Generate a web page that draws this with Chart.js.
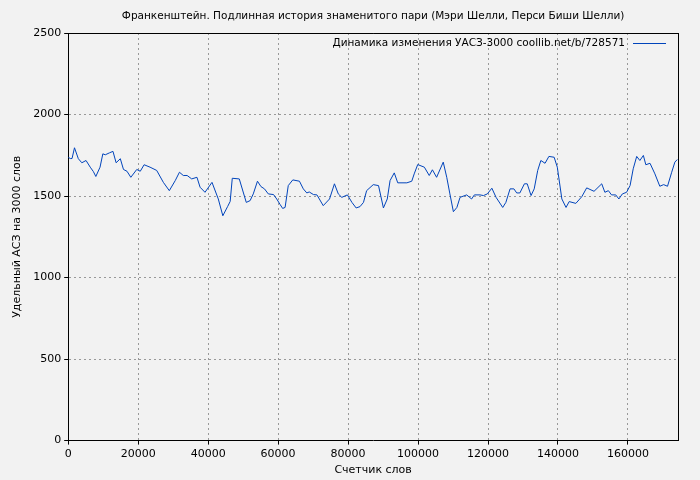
<!DOCTYPE html>
<html><head><meta charset="utf-8">
<script src="https://cdn.jsdelivr.net/npm/chart.js@4"></script>
<style>html,body{margin:0;background:#f2f2f2}#w{width:700px;height:480px}</style>
</head><body><div id="w"><canvas id="c"></canvas></div>
<script>
const words = [0,0.6,1.1,1.8,2.9,3.9,5.1,6.3,7.2,7.9,9.1,9.9,10.6,11.8,12.8,13.7,14.9,15.8,16.8,17.9,19.6,20.6,21.7,23.4,25.3,27.2,28.9,30.6,31.8,32.9,34.0,35.3,36.8,37.7,39.1,41.1,42.9,44.2,45.6,46.3,46.9,48.9,50.9,52.0,52.9,54.1,55.1,56.1,57.2,58.7,59.6,60.6,61.3,62.0,62.9,64.2,66.1,67.2,68.2,68.9,70.1,71.1,72.9,74.7,76.1,77.2,78.2,79.8,81.1,82.3,83.4,84.4,85.3,87.2,88.7,90.1,91.2,92.0,93.2,94.2,96.8,98.2,98.9,99.9,101.8,103.2,104.1,105.3,107.2,108.2,109.1,110.1,111.1,112.0,113.9,115.3,116.1,117.7,118.7,119.8,121.1,122.3,124.2,125.1,126.3,127.4,128.2,129.1,130.4,131.2,132.3,133.2,134.2,135.1,136.3,137.4,138.9,139.8,141.1,142.3,143.2,145.1,146.8,148.2,150.3,152.5,153.4,154.4,155.3,156.5,157.4,158.4,159.6,160.6,161.5,162.5,163.4,164.4,165.1,166.3,167.7,169.1,170.2,171.3,172.5,173.4,174.1];
const values = [1738,1730,1730,1796,1729,1704,1718,1677,1650,1620,1677,1759,1753,1765,1774,1704,1729,1663,1652,1615,1663,1652,1692,1677,1657,1584,1533,1595,1646,1626,1626,1605,1615,1554,1523,1584,1482,1379,1437,1467,1609,1605,1461,1472,1513,1591,1558,1544,1513,1509,1482,1447,1424,1430,1564,1599,1591,1544,1519,1525,1509,1507,1441,1482,1575,1513,1492,1507,1461,1427,1435,1461,1533,1570,1564,1427,1482,1595,1642,1581,1581,1591,1636,1693,1677,1626,1661,1615,1708,1615,1513,1404,1430,1492,1507,1482,1507,1507,1503,1513,1548,1492,1430,1461,1544,1544,1519,1519,1575,1575,1503,1544,1657,1718,1701,1743,1738,1677,1482,1430,1466,1455,1496,1550,1529,1575,1523,1533,1507,1507,1482,1513,1523,1564,1667,1743,1718,1749,1692,1701,1636,1560,1570,1560,1646,1708,1724];
const xTicks = [0,20000,40000,60000,80000,100000,120000,140000,160000];
const yTicks = [0,500,1000,1500,2000,2500];
const titleText = "Франкенштейн. Подлинная история знаменитого пари (Мэри Шелли, Перси Биши Шелли)";
const legendText = "Динамика изменения УАСЗ-3000 coollib.net/b/728571";
const xTitle = "Счетчик слов", yTitle = "Удельный АСЗ на 3000 слов";
const pts = words.map((w,i)=>({x:w*1000,y:values[i]}));
Chart.defaults.font.family = "DejaVu Sans";
Chart.defaults.font.size = 11;
Chart.defaults.color = "#000";
const legendPlugin = {id:'lg', afterDatasetsDraw(ch){
  const ctx=ch.ctx, a=ch.chartArea;
  ctx.save(); ctx.font="10.5px DejaVu Sans"; ctx.fillStyle="#000"; ctx.textBaseline="middle";
  ctx.textAlign="center"; ctx.fillText(titleText,(a.left+a.right)/2,16);
  ctx.textAlign="right";
  const y=a.top+10; ctx.fillText(legendText, a.right-53, y);
  ctx.strokeStyle="#0044bb"; ctx.lineWidth=1; ctx.beginPath(); ctx.moveTo(a.right-45,y+0.5); ctx.lineTo(a.right-12,y+0.5); ctx.stroke();
  ctx.strokeStyle="#000"; ctx.beginPath(); ctx.moveTo(a.right+0.5,a.top); ctx.lineTo(a.right+0.5,a.bottom); ctx.moveTo(a.left,a.top+0.5); ctx.lineTo(a.right,a.top+0.5); ctx.stroke();
  ctx.restore();
}};
new Chart(document.getElementById('c'), {
  type:'line',
  data:{datasets:[{data:pts, borderColor:'#0044bb', borderWidth:1, pointRadius:0, tension:0, fill:false}]},
  options:{responsive:true, maintainAspectRatio:false, animation:false,
    layout:{padding:{left:7,right:22,top:33,bottom:1}},
    plugins:{legend:{display:false}, tooltip:{enabled:false}, title:{display:false}},
    scales:{
      x:{type:'linear', min:0, max:174300,
        afterBuildTicks:s=>{s.ticks=xTicks.map(v=>({value:v}));},
        ticks:{maxRotation:0, autoSkip:false, callback:v=>String(v)},
        border:{color:'#000', width:1, dash:[2,3]},
        grid:{color:'#999', tickLength:4, tickColor:'#000'},
        title:{display:true, text:xTitle, padding:{top:0,bottom:2}}},
      y:{min:0, max:2500,
        afterBuildTicks:s=>{s.ticks=yTicks.map(v=>({value:v}));},
        ticks:{callback:v=>String(v)},
        border:{color:'#000', width:1, dash:[2,3]},
        grid:{color:'#999', tickLength:4, tickColor:'#000'},
        title:{display:true, text:yTitle, padding:{bottom:6}}}
    }},
  plugins:[legendPlugin]
});
</script></body></html>
